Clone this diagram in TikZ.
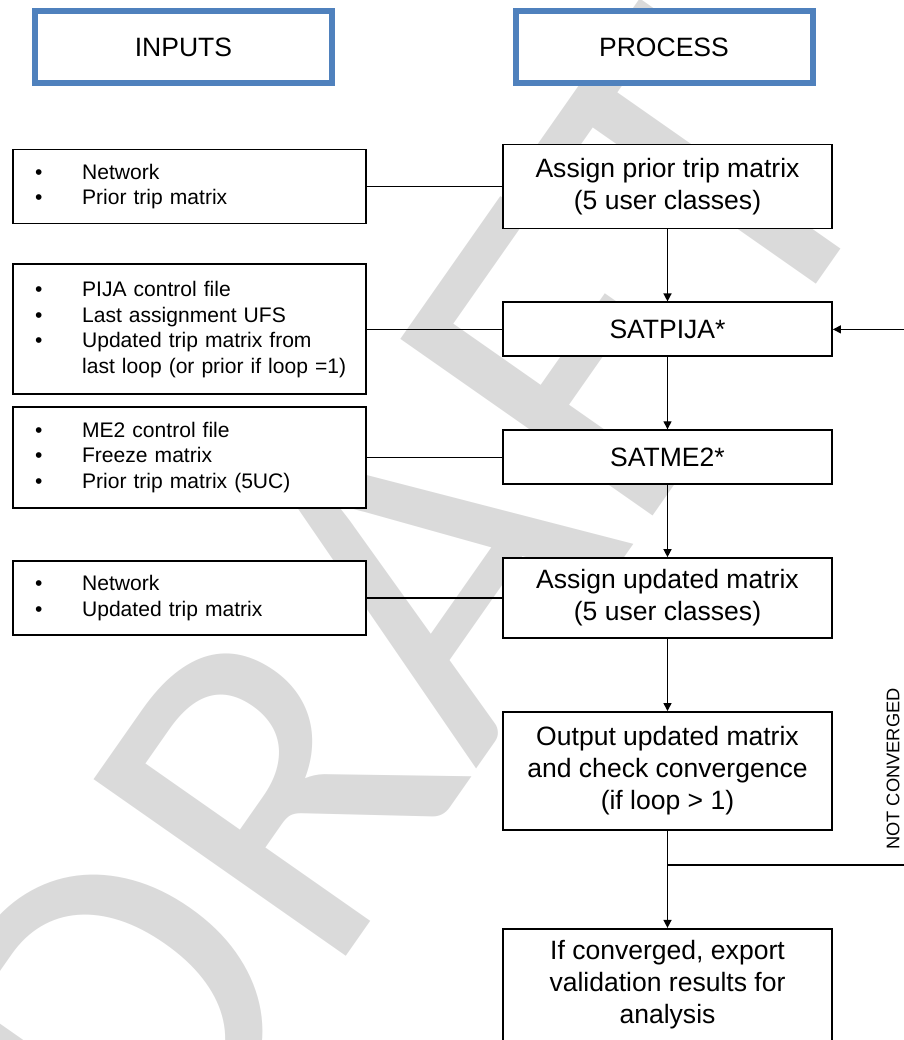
\documentclass[tikz,border=0pt]{standalone}
\usepackage{fontspec}
\setmainfont{Liberation Sans}
\newfontfamily\wmfont{Carlito}
\usetikzlibrary{positioning,arrows.meta}

\definecolor{hdrblue}{RGB}{79,129,189}
\definecolor{wmgray}{RGB}{218,218,218}

\newcommand{\blt}{\hspace*{16.5pt}\makebox[35.25pt][l]{\textbullet}}
\newcommand{\cont}{\hspace*{51.75pt}}

\begin{document}
\begin{tikzpicture}[x=0.75pt,y=-0.75pt,node distance=54pt,
	hdr/.style={draw=hdrblue,line width=4.5pt,fill=white,minimum width=222.75pt,minimum height=54pt,font=\fontsize{19.9}{24}\selectfont},
	inbox/.style={draw,line width=1.4pt,fill=white,text width=264.75pt,inner xsep=0pt,align=left,font=\fontsize{15.8}{19.1}\selectfont},
	procbox/.style={draw,line width=1.4pt,fill=white,minimum width=246.75pt,align=center,font=\fontsize{19.9}{24}\selectfont},
	watermark/.style={text=wmgray,font=\wmfont\fontsize{360}{360}\selectfont,rotate=55},
	link/.style={line width=1pt},
	flow/.style={line width=1pt,-{Triangle[length=6pt,width=6pt]}}]
	\useasboundingbox (0,0) rectangle (904,1040);

	\node[watermark] (wm) at (400,610) {DRAFT};

	% column heads
	\node[hdr] (inputs) at (183.5,47) {INPUTS};
	\node[hdr] (process) at (664,47) {PROCESS};

	% process chain
	\node[procbox,minimum height=63pt] (assign1) at (667.5,186.5) {Assign prior trip matrix\\(5 user classes)};
	\node[procbox,minimum height=40.5pt] (pija) [below=of assign1] {SATPIJA*};
	\node[procbox,minimum height=40.5pt] (me2) [below=of pija] {SATME2*};
	\node[procbox,minimum height=60pt] (assign2) [below=of me2] {Assign updated matrix\\(5 user classes)};
	\node[procbox,minimum height=88.5pt] (output) [below=of assign2] {Output updated matrix\\and check convergence\\(if loop > 1)};
	\node[procbox,minimum height=87.75pt] (export) [below=72.75pt of output] {If converged, export\\validation results for\\analysis\\[-15.7pt]};

	% inputs
	\node[inbox,minimum height=55.5pt] (in1) [left=101.25pt of assign1] {\blt Network\\\blt Prior trip matrix};
	\node[inbox,minimum height=97.5pt] (in2) [left=101.25pt of pija] {\blt PIJA control file\\\blt Last assignment UFS\\\blt Updated trip matrix from\\\cont last loop (or prior if loop =1)};
	\node[inbox,minimum height=75.75pt] (in3) [left=101.25pt of me2] {\blt ME2 control file\\\blt Freeze matrix\\\blt Prior trip matrix (5UC)};
	\node[inbox,minimum height=55.5pt] (in4) [left=101.25pt of assign2] {\blt Network\\\blt Updated trip matrix};

	\draw[link] (in1) -- (assign1);
	\draw[link] (in2) -- (pija);
	\draw[link] (in3) -- (me2);
	\draw[link] (in4) -- (assign2);

	\draw[flow] (assign1) -- (pija);
	\draw[flow] (pija) -- (me2);
	\draw[flow] (me2) -- (assign2);
	\draw[flow] (assign2) -- (output);

	% loop back
	\coordinate[below=25.5pt of output] (split);
	\coordinate (rim) at (912,0);
	\draw[link] (output) -- (split);
	\draw[flow] (split) -- (export);
	\draw[flow] (split) -- (split -| rim) |- (pija);
	\node[rotate=90,font=\fontsize{13.7}{16}\selectfont] (notconv) at (893,769) {NOT CONVERGED};

\end{tikzpicture}
\end{document}
